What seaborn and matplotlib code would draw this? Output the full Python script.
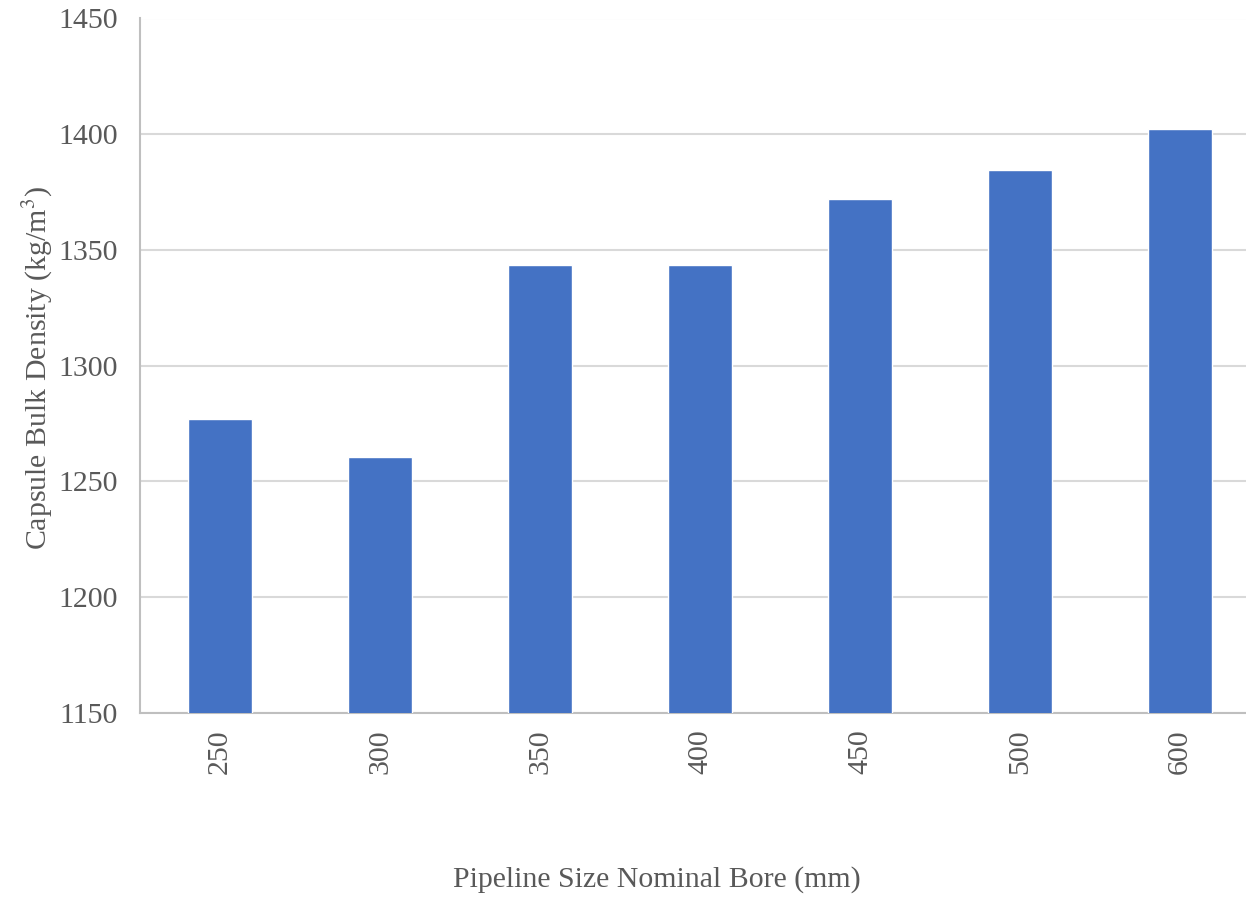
import matplotlib
matplotlib.use("Agg")
import matplotlib.pyplot as plt
import seaborn as sns
import pandas as pd

# Nominal bore sizes and the measured capsule bulk densities
bore_sizes = ["250", "300", "350", "400", "450", "500", "600"]
bulk_density = [1276.8, 1260.5, 1343.5, 1343.5, 1371.8, 1384.4, 1402.2]

df = pd.DataFrame({"bore": bore_sizes, "density": bulk_density})

sns.set_style("white")
plt.rcParams["font.family"] = ["Liberation Serif", "DejaVu Serif"]
plt.rcParams["mathtext.fontset"] = "stix"

text_color = "#595959"
font_size = 21.5
W, H = 1246, 898
fig = plt.figure(figsize=(W / 100, H / 100), dpi=100)
ax = fig.add_axes([140 / W, (H - 712.7) / H, 1120 / W, 694.2 / H])

sns.barplot(data=df, x="bore", y="density", color="#4472C4", saturation=1,
            width=0.4, ax=ax, zorder=3)

ax.set_ylim(1150, 1450)
ax.set_yticks(range(1150, 1451, 50))
ax.set_xlim(-0.5, len(bore_sizes) - 0.5)
ax.yaxis.grid(True, color="#d9d9d9", linewidth=1.5, zorder=0)
ax.set_axisbelow(True)

for side in ("top", "right"):
    ax.spines[side].set_visible(False)
for side in ("left", "bottom"):
    ax.spines[side].set_color("#bfbfbf")
    ax.spines[side].set_linewidth(1.5)

ax.tick_params(axis="both", length=0, labelsize=font_size, labelcolor=text_color)
ax.tick_params(axis="y", pad=16)
ax.tick_params(axis="x", pad=12)
for lbl in ax.get_xticklabels():
    lbl.set_rotation(90)

ax.set_xlabel("Pipeline Size Nominal Bore (mm)", fontsize=font_size,
              color=text_color, labelpad=0)
ax.xaxis.set_label_coords((657 - 140) / 1120, -(866 - 712.7) / 694.2)
ax.set_ylabel("Capsule Bulk Density (kg/m$^3$)", fontsize=font_size,
              color=text_color)
ax.yaxis.set_label_coords(-(140 - 55) / 1120, (712.7 - 368) / 694.2)

fig.savefig("out.png", dpi=100)
